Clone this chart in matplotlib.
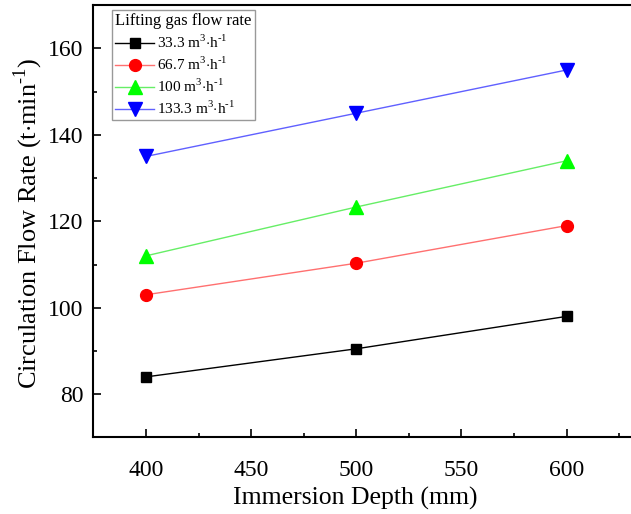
import numpy as np
import matplotlib
matplotlib.use("Agg")
import matplotlib.pyplot as plt
from matplotlib.ticker import MultipleLocator

plt.rcParams['font.family'] = ['Liberation Serif', 'DejaVu Serif']
plt.rcParams['mathtext.fontset'] = 'custom'
plt.rcParams['mathtext.rm'] = 'Liberation Serif'

depth = [400, 500, 600]
q33 = [84.0, 90.5, 98.0]
q67 = [103.0, 110.3, 119.0]
q100 = [112.0, 123.3, 134.0]
q133 = [135.0, 145.0, 155.0]
labels = [r"33.3 m$^{3}$$\cdot$h$^{\text{-1}}$", r"66.7 m$^{3}$$\cdot$h$^{\text{-1}}$",
          r"100 m$^{3}$$\cdot$h$^{\text{-1}}$", r"133.3 m$^{3}$$\cdot$h$^{\text{-1}}$"]

fig = plt.figure(figsize=(6.31, 5.14), dpi=100)
ax = fig.add_axes([0.148, 0.149, 0.86, 0.841])

ax.plot(depth, q33, "-s", color="k", mfc="k", mec="k", lw=1, ms=7.5, label=labels[0])
ax.plot(depth, q67, "-o", color="#ff7070", mfc="red", mec="red", lw=1, ms=8.5, label=labels[1])
ax.plot(depth, q100, "-^", color="#66ee66", mfc="#00ff00", mec="#00ff00", lw=1, ms=9.5, label=labels[2])
ax.plot(depth, q133, "-v", color="#6060ff", mfc="blue", mec="blue", lw=1, ms=9.5, label=labels[3])

ax.set_xlim(375, 633)
ax.set_ylim(70, 170)
ax.xaxis.set_major_locator(MultipleLocator(50))
ax.xaxis.set_minor_locator(MultipleLocator(25))
ax.yaxis.set_major_locator(MultipleLocator(20))
ax.yaxis.set_minor_locator(MultipleLocator(10))
ax.tick_params(which="both", direction="in", labelsize=17, width=1.2)
ax.tick_params(which="major", length=6)
ax.tick_params(which="minor", length=3)
ax.tick_params(axis="x", pad=16)
ax.tick_params(axis="y", pad=7)
for s in ["left", "bottom", "top"]:
    ax.spines[s].set_linewidth(1.5)
ax.spines["right"].set_visible(False)

ax.set_xlabel("Immersion Depth (mm)", fontsize=18.5)
ax.xaxis.set_label_coords(0.483, -0.115)
ax.set_ylabel(r"Circulation Flow Rate (t$\cdot$min$^{\text{-1}}$)", fontsize=19)
ax.yaxis.set_label_coords(-0.09, 0.495)

leg = ax.legend(title="Lifting gas flow rate", loc="upper left", fontsize=11,
                title_fontsize=12, fancybox=False, edgecolor="gray",
                bbox_to_anchor=(0.035, 0.988), borderaxespad=0.0,
                handlelength=2.5, labelspacing=0.3,
                borderpad=0.2, handletextpad=0.2)
leg.get_frame().set_linewidth(1.0)
leg._legend_box.align = "left"

fig.savefig("out.png", dpi=100)
